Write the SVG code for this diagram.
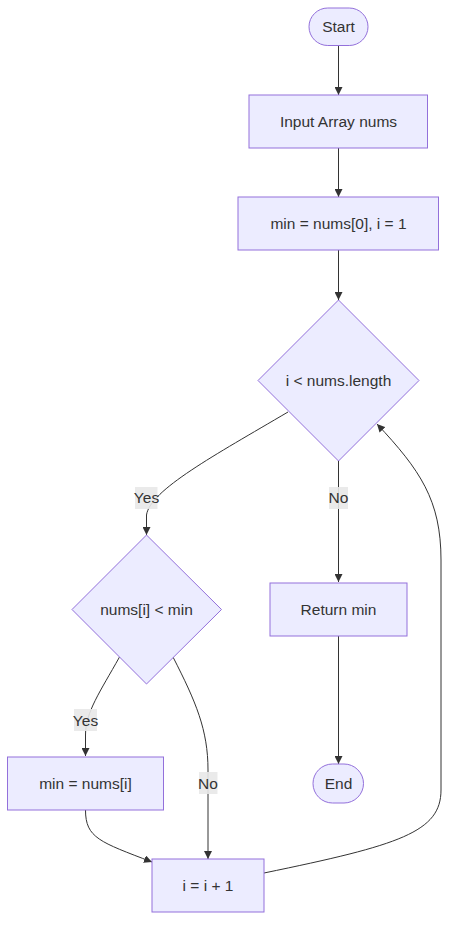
<svg xmlns="http://www.w3.org/2000/svg" width="457" height="937" viewBox="0 0 457 937">
<style>
.node{fill:#ECECFF;stroke:#9370DB;stroke-width:1px;}
.t{font-family:"Liberation Sans",Arial,sans-serif;font-size:15.5px;fill:#333;text-anchor:middle;}
.e{fill:none;stroke:#333;stroke-width:1px;}
.lb{fill:#e8e8e8;opacity:0.9;}
</style>
<defs>
<marker id="arr" viewBox="0 0 10 10" refX="10" refY="5" markerWidth="8" markerHeight="8" markerUnits="userSpaceOnUse" orient="auto">
<path d="M0,0 L10,5 L0,10 z" fill="#333"/>
</marker>
</defs>
<rect width="457" height="937" fill="#fff"/>
<g id="connectors">
<path class="e" d="M338.5,45 L338.5,95" marker-end="url(#arr)"/>
<path class="e" d="M338.5,148 L338.5,197" marker-end="url(#arr)"/>
<path class="e" d="M338.5,250 L338.5,300" marker-end="url(#arr)"/>
<path class="e" d="M288,412 C215,455 150,490 146.5,515 L146.5,535" marker-end="url(#arr)"/>
<path class="e" d="M338.5,461 L338.5,582" marker-end="url(#arr)"/>
<path class="e" d="M338.5,636 L338.5,764" marker-end="url(#arr)"/>
<path class="e" d="M119.5,657 C100,692 85.5,712 85.5,735 L85.5,756" marker-end="url(#arr)"/>
<path class="e" d="M173,657 C196,702 208,730 208,770 L208,859" marker-end="url(#arr)"/>
<path class="e" d="M85.5,810 C85.5,838 100,842 152,862" marker-end="url(#arr)"/>
<path class="e" d="M264,873 C400,845 441,832 441,790 L441,560 C441,500 420,470 377,424" marker-end="url(#arr)"/>
<rect class="lb" x="135" y="487" width="22.5" height="22"/>
<text class="t" x="146.5" y="503">Yes</text>
<rect class="lb" x="329" y="487" width="19" height="22"/>
<text class="t" x="338.5" y="503">No</text>
<rect class="lb" x="74" y="709" width="23" height="22"/>
<text class="t" x="85.5" y="725.5">Yes</text>
<rect class="lb" x="199" y="772" width="18.5" height="22"/>
<text class="t" x="208" y="788.5">No</text>
</g>
<g id="start">
<rect class="node" x="309" y="8" width="59" height="37.5" rx="18.75" ry="18.75"/>
<text class="t" x="338.5" y="32">Start</text>
</g>
<g id="input">
<rect class="node" x="249" y="95" width="178.5" height="53"/>
<text class="t" x="338.5" y="127">Input Array nums</text>
</g>
<g id="init">
<rect class="node" x="238" y="197" width="200.5" height="53"/>
<text class="t" x="338.5" y="229">min = nums[0], i = 1</text>
</g>
<g id="cond1">
<polygon class="node" points="338.5,300 419,380.5 338.5,461 258,380.5"/>
<text class="t" x="338.5" y="386">i &lt; nums.length</text>
</g>
<g id="cond2">
<polygon class="node" points="146.5,535 221.5,609.5 146.5,684 72,609.5"/>
<text class="t" x="146.5" y="615">nums[i] &lt; min</text>
</g>
<g id="ret">
<rect class="node" x="270" y="583" width="137" height="53"/>
<text class="t" x="338.5" y="615">Return min</text>
</g>
<g id="assign">
<rect class="node" x="7.5" y="757" width="156" height="53"/>
<text class="t" x="85.5" y="789">min = nums[i]</text>
</g>
<g id="end">
<rect class="node" x="313" y="764" width="50.5" height="39" rx="19.5" ry="19.5"/>
<text class="t" x="338.5" y="789">End</text>
</g>
<g id="inc">
<rect class="node" x="152" y="859" width="112" height="53"/>
<text class="t" x="208" y="891">i = i + 1</text>
</g>
</svg>
